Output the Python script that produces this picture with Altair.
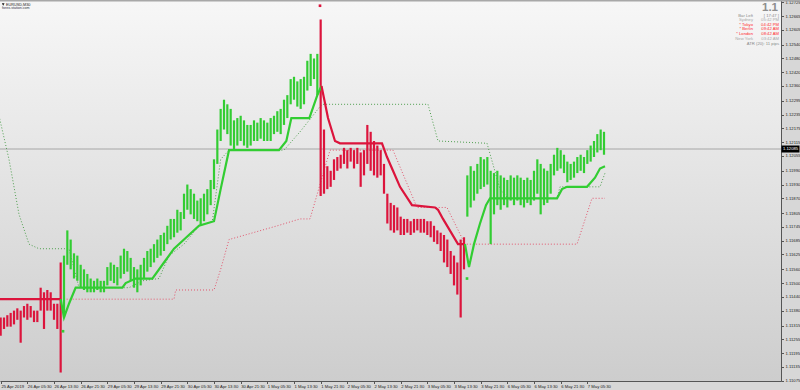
import altair as alt
import pandas as pd

# ---------------- data (EURUSD, M30) ----------------
bar_high = [
    1.1135, 1.1135, 1.1136, 1.1137, 1.1138, 1.1139, 1.1138, 1.1140, 1.1141, 1.1140,
    1.1138, 1.1138, 1.1148, 1.1146, 1.1147, 1.1146, 1.1141, 1.1141, 1.1159, 1.1162,
    1.1173, 1.1169, 1.1163, 1.1162, 1.1158, 1.1156, 1.1154, 1.1152, 1.1151, 1.1152,
    1.1151, 1.1151, 1.1157, 1.1159, 1.1158, 1.1157, 1.1162, 1.1165, 1.1164, 1.1161,
    1.1157, 1.1156, 1.1158, 1.1161, 1.1164, 1.1165, 1.1167, 1.1169, 1.1171, 1.1172,
    1.1175, 1.1178, 1.1178, 1.1182, 1.1181, 1.1189, 1.1193, 1.1191, 1.1189, 1.1186,
    1.1187, 1.1189, 1.1191, 1.1195, 1.1204, 1.1217, 1.1226, 1.1230, 1.1228, 1.1226,
    1.1221, 1.1222, 1.1223, 1.1221, 1.1219, 1.1219, 1.1221, 1.1220, 1.1222, 1.1221,
    1.1220, 1.1222, 1.1223, 1.1225, 1.1226, 1.1230, 1.1232, 1.1239, 1.1240, 1.1238,
    1.1239, 1.1240, 1.1247, 1.1250, 1.1248, 1.1250, 1.1265, 1.1217, 1.1201, 1.1199,
    1.1204, 1.1205, 1.1206, 1.1209, 1.1208, 1.1209, 1.1208, 1.1209, 1.1207, 1.1208,
    1.1219, 1.1216, 1.1212, 1.1210, 1.1208, 1.1202, 1.1189, 1.1185, 1.1184, 1.1183,
    1.1179, 1.1178, 1.1178, 1.1177, 1.1178, 1.1178, 1.1178, 1.1178, 1.1177, 1.1177,
    1.1175, 1.1173, 1.1172, 1.1171, 1.1169, 1.1164, 1.1162, 1.1159, 1.1169, 1.1170,
    1.1197, 1.1201, 1.1199, 1.1202, 1.1205, 1.1204, 1.1205, 1.1199, 1.1198, 1.1199,
    1.1197, 1.1196, 1.1195, 1.1197, 1.1196, 1.1197, 1.1196, 1.1195, 1.1196, 1.1195,
    1.1199, 1.1204, 1.1202, 1.1200, 1.1199, 1.1202, 1.1206, 1.1209, 1.1208, 1.1206,
    1.1203, 1.1202, 1.1203, 1.1205, 1.1206, 1.1205, 1.1208, 1.1210, 1.1212, 1.1215,
    1.1217, 1.1216,
]
bar_low = [
    1.1127, 1.1130, 1.1131, 1.1131, 1.1132, 1.1134, 1.1124, 1.1135, 1.1134, 1.1135,
    1.1133, 1.1133, 1.1138, 1.1130, 1.1138, 1.1138, 1.1134, 1.1130, 1.1111, 1.1135,
    1.1158, 1.1156, 1.1152, 1.1151, 1.1148, 1.1147, 1.1146, 1.1146, 1.1146, 1.1147,
    1.1146, 1.1146, 1.1149, 1.1151, 1.1150, 1.1149, 1.1152, 1.1154, 1.1155, 1.1151,
    1.1148, 1.1146, 1.1149, 1.1152, 1.1155, 1.1157, 1.1159, 1.1161, 1.1162, 1.1164,
    1.1167, 1.1169, 1.1170, 1.1172, 1.1173, 1.1178, 1.1182, 1.1180, 1.1178, 1.1177,
    1.1175, 1.1177, 1.1180, 1.1184, 1.1191, 1.1202, 1.1212, 1.1217, 1.1215, 1.1210,
    1.1208, 1.1210, 1.1212, 1.1210, 1.1209, 1.1210, 1.1212, 1.1212, 1.1213, 1.1212,
    1.1212, 1.1212, 1.1215, 1.1216, 1.1215, 1.1219, 1.1222, 1.1228, 1.1230, 1.1227,
    1.1226, 1.1228, 1.1234, 1.1236, 1.1239, 1.1232, 1.1188, 1.1189, 1.1191, 1.1192,
    1.1195, 1.1199, 1.1200, 1.1202, 1.1200, 1.1203, 1.1200, 1.1202, 1.1192, 1.1197,
    1.1202, 1.1199, 1.1197, 1.1196, 1.1197, 1.1189, 1.1176, 1.1173, 1.1172, 1.1173,
    1.1171, 1.1171, 1.1172, 1.1171, 1.1172, 1.1173, 1.1172, 1.1172, 1.1171, 1.1170,
    1.1168, 1.1167, 1.1164, 1.1159, 1.1157, 1.1154, 1.1149, 1.1145, 1.1135, 1.1156,
    1.1179, 1.1183, 1.1186, 1.1189, 1.1191, 1.1192, 1.1193, 1.1167, 1.1180, 1.1184,
    1.1182, 1.1184, 1.1183, 1.1186, 1.1184, 1.1186, 1.1184, 1.1183, 1.1185, 1.1184,
    1.1186, 1.1189, 1.1180, 1.1184, 1.1185, 1.1189, 1.1197, 1.1199, 1.1200, 1.1198,
    1.1194, 1.1195, 1.1196, 1.1198, 1.1199, 1.1198, 1.1202, 1.1203, 1.1205, 1.1207,
    1.1208, 1.1206,
]
first_bar = -16          # bar number of the first entry (0 = 26 Apr 05:30)
bar_step = 2             # bars per entry
turn_at = [0, 19, 96, 140]
turn_dir = ["down", "up", "down", "up"]

# thick trend line, one piece per direction
trend1_b = [-17, 20]
trend1_p = [1.1143, 1.1143]
trend2_b = [20, 22, 25, 29, 57, 59, 65, 75, 82, 88, 94, 103, 112, 116, 121, 151, 155.4, 158.4,
            169.2, 174, 176.5]
trend2_p = [1.1143, 1.1135, 1.1141, 1.1148, 1.1148, 1.1150, 1.1152, 1.1152, 1.1159, 1.1165,
            1.1169, 1.1175, 1.1177, 1.1191, 1.1208, 1.1208, 1.1212, 1.1222, 1.1222, 1.1232,
            1.1236]
trend3_b = [176.5, 180.4, 184.6, 187.6, 212.8, 215.8, 219.4, 223.6, 230.8, 244.6, 246.4, 249.4,
            258.4, 262.6]
trend3_p = [1.1236, 1.1222, 1.1212, 1.1211, 1.1211, 1.1205, 1.1199, 1.1192, 1.1184, 1.1183,
            1.1182, 1.1178, 1.1167, 1.1167]
trend4_b = [262.6, 265, 268, 271.6, 275.2, 277.6, 317.8, 320.8, 323.8, 335.8, 340.6, 343.6, 346.6]
trend4_p = [1.1167, 1.1157, 1.1167, 1.1176, 1.1184, 1.1187, 1.1187, 1.1191, 1.1192, 1.1192,
            1.1196, 1.1200, 1.1201]
trend_dirs = ["down", "up", "down", "up"]

# dotted bands
upper_b = [-17, -11, -5, 1, 7, 25, 31, 61, 69, 79, 85, 94, 103, 111, 116, 121, 154, 163.6,
           175.6, 177.4, 240.4, 246.4, 275.8, 283.6, 288.4, 317.8, 319.6, 343.6, 346.6]
upper_p = [1.1223, 1.1204, 1.1180, 1.1167, 1.1165, 1.1165, 1.1148, 1.1148, 1.1151, 1.1152,
           1.1162, 1.1167, 1.1175, 1.1177, 1.1204, 1.1208, 1.1208, 1.1216, 1.1227, 1.1228,
           1.1228, 1.1212, 1.1211, 1.1191, 1.1187, 1.1187, 1.1192, 1.1192, 1.1198]
lower_b = [20, 88, 89, 112, 116, 121, 150, 163.6, 169.6, 181.6, 219.4, 233.8, 251.8, 262.6,
           329.8, 338.8, 346.6]
lower_p = [1.1143, 1.1143, 1.1147, 1.1147, 1.1156, 1.1169, 1.1175, 1.1178, 1.1178, 1.1208,
           1.1208, 1.1183, 1.1183, 1.1167, 1.1167, 1.1187, 1.1187]

# signal dots
signal_b = [21.4, 175.6, 263.8]
signal_p = [1.1129, 1.1271, 1.1152]
signal_dir = ["up", "down", "up"]

current_price = [1.12085]
price_ticks = [1.12725, 1.12665, 1.12605, 1.12540, 1.12480, 1.12420, 1.12360, 1.12295,
               1.12235, 1.12175, 1.12115, 1.12055, 1.11990, 1.11930, 1.11870, 1.11805,
               1.11745, 1.11685, 1.11625, 1.11560, 1.11500, 1.11440, 1.11380, 1.11315,
               1.11255, 1.11195, 1.11135, 1.11075]
time_labels = ["25 Apr 2019", "26 Apr 05:30", "26 Apr 13:30", "26 Apr 21:30", "29 Apr 05:30",
               "29 Apr 13:30", "29 Apr 21:30", "30 Apr 05:30", "30 Apr 13:30", "30 Apr 21:30",
               "1 May 05:30", "1 May 13:30", "1 May 21:30", "2 May 05:30", "2 May 13:30",
               "2 May 21:30", "3 May 05:30", "3 May 13:30", "3 May 21:30", "6 May 05:30",
               "6 May 13:30", "6 May 21:30", "7 May 05:30"]
time_ticks = [-15.8] + [16 * i for i in range(len(time_labels) - 1)]

info_labels = ["Bar Left", "Sydney", "* Tokyo", "* Berlin", "* London", "New York"]
info_values = ["[ 17:47 ]", "05:42 PM", "04:42 PM", "09:42 AM", "08:42 AM", "03:42 AM"]
info_kind = ["plain", "closed", "open", "open", "open", "closed"]
atr_text = "ATR (20): 11 pips"
spread_text = "1.1"
symbol_text = "EURUSD,M30"
site_text = "forex-station.com"

# ---------------- styling ----------------
RED = "#dc143c"
GREEN = "#32cd32"
dir_color = {"down": RED, "up": GREEN}
info_color = {"plain": "#8a8a8a", "closed": "#a9a9a9", "open": "#ff2b2b"}
W, H = 781, 381
FONT = "Liberation Sans"

# ---------------- tables ----------------
dirs = []
for k in range(len(bar_high)):
    d = turn_dir[0]
    for t, dd in zip(turn_at, turn_dir):
        if k >= t:
            d = dd
    dirs.append(d)
bars = pd.DataFrame({
    "b": [first_bar + bar_step * k for k in range(len(bar_high))],
    "hi": bar_high, "lo": bar_low,
    "col": [dir_color[d] for d in dirs],
})

rows = []
for i, (bb, pp) in enumerate([(trend1_b, trend1_p), (trend2_b, trend2_p),
                              (trend3_b, trend3_p), (trend4_b, trend4_p)]):
    for x, y in zip(bb, pp):
        rows.append({"b": x, "p": y, "seg": i, "col": dir_color[trend_dirs[i]]})
trend = pd.DataFrame(rows)

bands = pd.concat([
    pd.DataFrame({"b": upper_b, "p": upper_p, "band": "upper", "col": "#4f9f4f"}),
    pd.DataFrame({"b": lower_b, "p": lower_p, "band": "lower", "col": "#e2566e"}),
])
signals = pd.DataFrame({"b": signal_b, "p": signal_p,
                        "col": [dir_color[d] for d in signal_dir]})
price = pd.DataFrame({"p": current_price, "t": [f"{v:.5f}" for v in current_price]})
one = pd.DataFrame({"z": [0]})

labels_js = "[" + ",".join("'%s'" % s for s in time_labels[1:]) + "]"
x_axis = alt.Axis(values=time_ticks, title=None, grid=False,
                  labelExpr=f"datum.value < 0 ? '{time_labels[0]}' : {labels_js}[round(datum.value / 16)]",
                  labelAlign="left", labelBaseline="top", labelFontSize=4.2, labelFont=FONT,
                  labelColor="#222", labelPadding=1, labelFlush=False, labelOverlap=False,
                  labelBound=False, tickSize=2.5, tickColor="#555", domainColor="#555",
                  domainWidth=1)
y_axis = alt.Axis(orient="right", values=price_ticks, format=".5f", title=None, grid=False,
                  labelFontSize=4.2, labelFont=FONT, labelColor="#222", labelPadding=1.5,
                  tickSize=2.5, tickColor="#555", domainColor="#555", domainWidth=1,
                  labelOverlap=False, labelFlush=False, labelBound=False)
xs = alt.Scale(domain=[-16.4, 452.2], nice=False, zero=False)
ys = alt.Scale(domain=[1.11073, 1.12735], nice=False, zero=False)


def X(f="b"):
    return alt.X(f"{f}:Q", scale=xs, axis=x_axis)


def Y(f="p"):
    return alt.Y(f"{f}:Q", scale=ys, axis=y_axis)


bg = alt.Chart(one).mark_rect(
    color=alt.Gradient(gradient="linear", x1=0, x2=0, y1=0, y2=1,
                       stops=[alt.GradientStop(color="#f7f7f7", offset=0),
                              alt.GradientStop(color="#cdcdcd", offset=1)])
).encode(x=alt.value(0), x2=alt.value(W), y=alt.value(0), y2=alt.value(H))
top_strip = alt.Chart(one).mark_rect(color="#a8a8a8").encode(
    x=alt.value(0), x2=alt.value(800), y=alt.value(0), y2=alt.value(1.6))

price_line = alt.Chart(price).mark_rule(color="#a6a6a6", strokeWidth=1).encode(y=Y())

band_lines = alt.Chart(bands).mark_line(strokeWidth=1, strokeDash=[1, 2]).encode(
    x=X(), y=Y(), color=alt.Color("col:N", scale=None), detail="band:N")

bar_marks = alt.Chart(bars).mark_rule(strokeWidth=2.2).encode(
    x=X(), y=Y("lo"), y2="hi:Q", color=alt.Color("col:N", scale=None))

trend_lines = alt.Chart(trend).mark_line(strokeWidth=2.2).encode(
    x=X(), y=Y(), color=alt.Color("col:N", scale=None), detail="seg:N")

dots = alt.Chart(signals).mark_square(size=7, opacity=1).encode(
    x=X(), y=Y(), color=alt.Color("col:N", scale=None))

price_box = alt.Chart(price).mark_tick(orient="horizontal", size=18, thickness=7,
                                       color="#000", opacity=1, clip=False).encode(
    x=alt.value(790.5), y=Y())
price_txt = alt.Chart(price).mark_text(align="left", baseline="middle", fontSize=4.2,
                                       font=FONT, color="#fff").encode(
    x=alt.value(783), y=Y(), text="t:N")

texts = []
texts.append(alt.Chart(one).mark_text(align="right", baseline="alphabetic", fontSize=11.5,
                                      fontWeight="bold", font=FONT, color="#8e8e8e").encode(
    x=alt.value(778), y=alt.value(11), text=alt.value(spread_text)))
for i, (lab, val, kind) in enumerate(zip(info_labels, info_values, info_kind)):
    yy = 15.6 + 4.6 * i
    c = info_color[kind]
    texts.append(alt.Chart(one).mark_text(align="right", baseline="middle", fontSize=4.2,
                                          font=FONT, color=c).encode(
        x=alt.value(753), y=alt.value(yy), text=alt.value(lab)))
    texts.append(alt.Chart(one).mark_text(align="right", baseline="middle", fontSize=4.2,
                                          font=FONT, color=c).encode(
        x=alt.value(779), y=alt.value(yy), text=alt.value(val)))
texts.append(alt.Chart(one).mark_text(align="right", baseline="middle", fontSize=4.2,
                                      font=FONT, color="#8a8a8a").encode(
    x=alt.value(779), y=alt.value(43.6), text=alt.value(atr_text)))
texts.append(alt.Chart(one).mark_point(shape="triangle-down", filled=True, size=7,
                                       color="#111", opacity=1).encode(
    x=alt.value(3.2), y=alt.value(4.5)))
texts.append(alt.Chart(one).mark_text(align="left", baseline="middle", fontSize=3.8,
                                      font=FONT, color="#222").encode(
    x=alt.value(6), y=alt.value(4.5), text=alt.value(symbol_text)))
texts.append(alt.Chart(one).mark_text(align="left", baseline="middle", fontSize=3.6,
                                      font=FONT, color="#334").encode(
    x=alt.value(2), y=alt.value(7.8), text=alt.value(site_text)))

chart = alt.layer(bg, top_strip, price_line, band_lines, bar_marks, trend_lines, dots,
                  price_box, price_txt, *texts).properties(
    width=W, height=H,
    autosize=alt.AutoSizeParams(type="none"),
    padding={"left": 0, "top": 0, "right": 19, "bottom": 9},
    background="#d7d7d7",
).configure_view(stroke=None)

chart.save("out.html", embed_options={"renderer": "svg", "actions": False})
